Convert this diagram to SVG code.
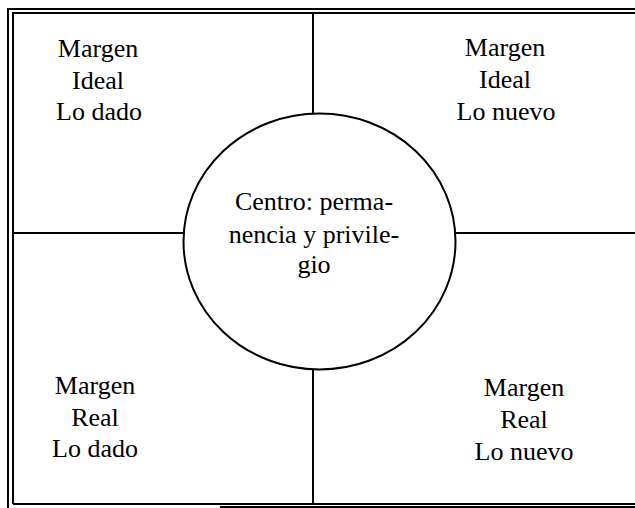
<svg xmlns="http://www.w3.org/2000/svg" width="635" height="508" viewBox="0 0 635 508">
<style>
.ln{stroke:#000;stroke-width:2;fill:none}
.t{font-family:"Liberation Serif","Times New Roman",serif;font-size:26px;fill:#000;text-anchor:middle}
</style>
<rect width="635" height="508" fill="#fff"/>
<g id="frame">
<path class="ln" d="M8,508 V9 H635"/>
<path class="ln" d="M13,504 V13 H635"/>
<path class="ln" d="M13,504 H635"/>
<path class="ln" d="M220,507 H635" stroke-width="1.5"/>
</g>
<g id="connectors">
<line class="ln" x1="13" y1="233" x2="184" y2="233"/>
<line class="ln" x1="455" y1="233" x2="635" y2="233"/>
<line class="ln" x1="313" y1="13" x2="313" y2="114"/>
<line class="ln" x1="313" y1="369" x2="313" y2="504"/>
</g>
<g id="centro">
<ellipse class="ln" cx="319.5" cy="241.5" rx="136" ry="128"/>
<text class="t" x="314" y="210">Centro: perma-</text>
<text class="t" x="314" y="243">nencia y privile-</text>
<text class="t" x="314" y="273">gio</text>
</g>
<g id="ideal-dado">
<text class="t" x="98" y="57">Margen</text>
<text class="t" x="98" y="89">Ideal</text>
<text class="t" x="99" y="120">Lo dado</text>
</g>
<g id="ideal-nuevo">
<text class="t" x="505" y="56">Margen</text>
<text class="t" x="505" y="88">Ideal</text>
<text class="t" x="506" y="120">Lo nuevo</text>
</g>
<g id="real-dado">
<text class="t" x="95" y="394">Margen</text>
<text class="t" x="95" y="426">Real</text>
<text class="t" x="95" y="457">Lo dado</text>
</g>
<g id="real-nuevo">
<text class="t" x="524" y="396">Margen</text>
<text class="t" x="524" y="428">Real</text>
<text class="t" x="524" y="460">Lo nuevo</text>
</g>
</svg>
